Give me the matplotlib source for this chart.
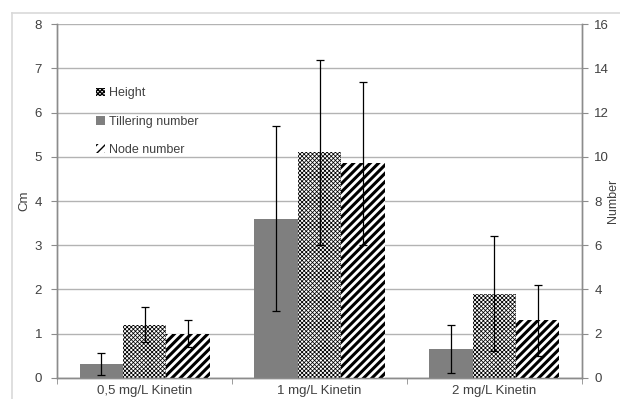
import numpy as np
import matplotlib.pyplot as plt
from matplotlib.lines import Line2D
from matplotlib.patches import Patch

plt.rcParams['font.family'] = ['Liberation Sans', 'DejaVu Sans']

# Data
categories = ['0,5 mg/L Kinetin', '1 mg/L Kinetin', '2 mg/L Kinetin']
height = [1.2, 5.1, 1.9]          # Cm (left axis)
height_err = [0.4, 2.1, 1.3]
tillering = [0.6, 7.2, 1.3]       # Number (right axis)
tillering_err = [0.5, 4.2, 1.1]
node = [2.0, 9.7, 2.6]            # Number (right axis)
node_err = [0.6, 3.7, 1.6]

text_c = '#404040'
axis_c = '#8c8c8c'
grid_c = '#b3b3b3'
check_hatch, check_lw = 'xxxxxxxx', 0.55
stripe_hatch, stripe_lw = '////', 2.2

fig = plt.figure(figsize=(6.2, 3.99), dpi=100)
ax = fig.add_axes([57.3 / 620, 1 - 377.7 / 399, (581.7 - 57.3) / 620, (377.7 - 24.3) / 399])
ax2 = ax.twinx()

x = np.arange(len(categories))
w = 0.248
ekw = dict(ecolor='black', elinewidth=0.9, capsize=3, capthick=0.9)


def set_hlw(patches, lw):
    for p in patches:
        if hasattr(p, 'set_hatch_linewidth'):
            p.set_hatch_linewidth(lw)


ax2.bar(x - w, tillering, w, color='#7f7f7f', linewidth=0,
        yerr=tillering_err, error_kw=ekw, zorder=2)
with plt.rc_context({'hatch.linewidth': check_lw}):
    b1 = ax.bar(x, height, w, color='white', edgecolor='black', linewidth=0, hatch=check_hatch,
                yerr=height_err, error_kw=ekw, zorder=2)
set_hlw(b1, check_lw)
with plt.rc_context({'hatch.linewidth': stripe_lw}):
    b2 = ax2.bar(x + w, node, w, color='white', edgecolor='black', linewidth=0, hatch=stripe_hatch,
                 yerr=node_err, error_kw=ekw, zorder=2)
set_hlw(b2, stripe_lw)

ax.set_xlim(-0.5, 2.5)
ax.set_ylim(0, 8)
ax2.set_ylim(0, 16)
ax.set_yticks(range(0, 9))
ax2.set_yticks(range(0, 17, 2))
ax.grid(axis='y', color=grid_c, linewidth=1.0, zorder=0)
ax.set_axisbelow(True)

ax.set_xticks(x)
ax.set_xticklabels(categories)
ax.set_xticks([-0.5, 0.5, 1.5, 2.5], minor=True)
ax.tick_params(axis='x', which='major', length=0, pad=5, labelsize=9.5, labelcolor=text_c)
ax.tick_params(axis='x', which='minor', length=4, color=axis_c, direction='out')
ax.tick_params(axis='y', length=4, color=axis_c, pad=7, labelsize=9.5, labelcolor=text_c)
ax2.tick_params(axis='y', length=4, color=axis_c, pad=5, labelsize=9.5, labelcolor=text_c)

for a in (ax, ax2):
    a.spines['top'].set_visible(False)
    for s in ('left', 'right', 'bottom'):
        a.spines[s].set_color(axis_c)
        a.spines[s].set_linewidth(1.0)

ax.set_ylabel('Cm', fontsize=9.5, color=text_c, labelpad=3)
ax2.set_ylabel('Number', fontsize=9, color=text_c, labelpad=-1.5)

# legend
handles = [
    Patch(facecolor='white', edgecolor='black', hatch=check_hatch, linewidth=0, label='Height'),
    Patch(facecolor='#7f7f7f', linewidth=0, label='Tillering number'),
    Patch(facecolor='white', edgecolor='black', hatch=stripe_hatch, linewidth=0, label='Node number'),
]
set_hlw(handles[:1], check_lw)
set_hlw(handles[2:], stripe_lw)
fig.legend(handles=handles, loc='upper left', bbox_to_anchor=(90 / 620, 1 - 81 / 399),
           frameon=False, fontsize=9, handlelength=0.7, handleheight=0.7,
           handletextpad=0.3, labelspacing=1.3, labelcolor=text_c, borderpad=0)

# outer chart border
fig.add_artist(Line2D([12 / 620, 1.0], [1 - 13 / 399] * 2, transform=fig.transFigure,
                      color='#d9d9d9', linewidth=1.2))
fig.add_artist(Line2D([12 / 620] * 2, [0.0, 1 - 13 / 399], transform=fig.transFigure,
                      color='#d9d9d9', linewidth=1.2))

fig.savefig('out.png', dpi=100)
